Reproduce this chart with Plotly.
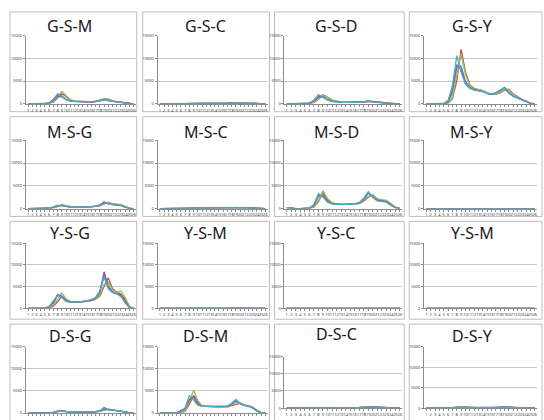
import plotly.graph_objects as go

W, H = 544, 420
HOURS = list(range(1, 27))
HOUR_LABELS = [str(h) for h in HOURS]
Y_TICKS = [0, 5000, 10000, 15000]
SERIES_COLORS = ["#4F81BD", "#C0504D", "#9BBB59", "#8064A2", "#4BACC6"]

# each panel: 5 series (blue, red, green, purple, cyan) x 26 categories
GSM = [
    [0,0,0,0,20,150,700,1700,1500,900,600,500,500,450,400,400,500,700,900,700,500,400,300,150,30,0],
    [0,0,0,0,0,80,400,1200,2200,1600,800,600,500,500,450,400,450,600,900,1000,600,500,350,200,50,0],
    [0,0,0,0,0,100,500,1500,2700,1800,900,650,550,500,450,450,500,650,950,1050,650,500,400,200,60,0],
    [0,0,0,0,20,200,800,1800,1700,1000,650,550,500,450,400,400,500,700,1000,750,500,400,300,150,30,0],
    [0,0,0,0,30,250,1000,2200,1700,900,600,500,450,450,400,400,550,750,1100,700,450,350,250,100,20,0],
]
GSC = [
    [0,0,0,0,0,10,30,60,80,60,50,50,50,60,70,90,130,180,240,220,160,110,60,30,10,0],
    [0,0,0,0,0,5,20,40,70,70,50,50,50,60,70,80,110,160,210,260,180,120,70,30,10,0],
    [0,0,0,0,0,5,25,50,80,70,55,50,50,60,70,85,120,170,230,250,190,130,80,35,10,0],
    [0,0,0,0,0,10,35,70,80,60,50,50,50,60,70,90,140,190,250,210,150,100,60,30,10,0],
    [0,0,0,0,0,15,40,80,70,55,50,50,50,60,75,100,150,210,280,200,140,100,55,25,5,0],
]
GSD = [
    [0,0,0,0,10,100,500,1500,1600,1000,600,400,350,300,300,300,350,450,550,450,300,200,120,60,20,0],
    [0,0,0,0,0,50,300,1000,2000,1500,800,500,350,300,300,300,300,400,500,550,400,250,150,80,20,0],
    [0,0,0,0,0,60,350,1100,1900,1400,800,500,350,300,300,300,320,420,520,500,380,250,150,80,20,0],
    [0,0,0,0,10,120,600,1600,1500,900,550,400,350,300,300,300,350,450,600,450,300,200,120,60,20,0],
    [0,0,0,0,20,150,800,2000,1400,800,500,380,330,300,300,300,350,480,650,420,280,180,100,50,10,0],
]
GSY = [
    [0,0,0,0,0,400,2500,8000,8300,5000,3600,3200,3000,2800,2300,2100,2300,2800,3500,2600,1700,1300,900,500,100,0],
    [0,0,0,0,0,100,1200,5000,12000,7000,4200,3400,3100,2900,2400,2100,2100,2400,3000,3200,2200,1500,1000,600,150,0],
    [0,0,0,0,0,150,1500,6000,11000,6500,4000,3300,3100,2900,2400,2100,2200,2500,3200,3100,2100,1500,1000,550,150,0],
    [0,0,0,0,0,500,3000,8600,7500,4500,3500,3100,2900,2700,2300,2100,2400,2900,3600,2500,1700,1300,900,500,100,0],
    [0,0,0,0,50,700,4000,10600,7000,4300,3400,3000,2900,2700,2300,2100,2400,3000,3400,2300,1600,1200,800,400,80,0],
]
MSG = [
    [0,0,0,0,0,50,250,600,700,500,350,300,300,300,350,400,500,700,1200,1100,900,850,700,300,50,0],
    [0,0,0,0,0,20,150,400,850,600,400,300,300,300,300,350,450,600,1000,1400,1000,900,800,400,80,0],
    [0,0,0,0,0,30,180,450,800,600,400,320,300,300,320,370,480,650,1100,1300,1000,900,850,450,80,0],
    [0,0,0,0,0,60,300,650,650,450,330,300,300,300,350,400,520,750,1300,1000,850,800,700,300,50,0],
    [0,0,0,0,10,80,350,750,600,400,300,280,280,300,350,420,550,800,1550,1000,850,800,650,250,40,0],
]
MSC = [
    [0,0,0,0,0,5,15,30,40,30,30,30,30,40,50,70,100,140,180,170,130,90,50,20,5,0],
    [0,0,0,0,0,0,10,20,35,35,30,30,30,40,50,60,90,120,160,200,150,100,60,25,5,0],
    [0,0,0,0,0,0,10,25,40,35,30,30,30,40,50,65,95,130,170,190,150,100,60,25,5,0],
    [0,0,0,0,0,5,20,35,40,30,30,30,30,40,50,70,105,150,190,160,120,80,50,20,5,0],
    [0,0,0,0,0,5,20,40,35,30,30,30,30,40,55,75,110,160,220,150,110,80,45,20,5,0],
]
MSD = [
    [200,50,0,0,0,100,600,2700,3000,1600,1100,950,900,900,950,1000,1200,2000,3400,2600,1800,1700,1500,800,200,0],
    [150,30,0,0,0,50,300,1500,3500,2000,1200,1000,900,900,950,1000,1100,1600,2500,3000,2100,1800,1700,1000,300,0],
    [150,30,0,0,0,50,350,1800,3900,2200,1300,1000,900,900,950,1000,1150,1700,2700,2900,2100,1900,1800,1100,300,0],
    [200,50,0,0,0,120,700,2900,2800,1500,1100,950,900,900,950,1000,1250,2100,3500,2500,1800,1700,1500,800,200,0],
    [200,50,0,0,0,150,900,3300,2500,1400,1050,900,880,900,950,1050,1300,2300,3700,2400,1700,1600,1400,700,150,0],
]
MSY = [
    [0,0,0,0,0,5,10,20,25,20,20,20,20,25,30,40,60,90,120,110,80,50,30,10,0,0],
    [0,0,0,0,0,0,5,15,25,25,20,20,20,25,30,40,55,80,100,130,90,60,30,10,0,0],
    [0,0,0,0,0,0,5,15,25,25,20,20,20,25,30,40,55,85,110,120,90,55,30,10,0,0],
    [0,0,0,0,0,5,10,20,25,20,20,20,20,25,30,40,60,95,125,100,75,50,30,10,0,0],
    [0,0,0,0,0,5,15,25,20,20,20,20,20,25,30,45,65,100,140,100,70,45,25,10,0,0],
]
YSG = [
    [0,0,0,0,0,300,1200,3000,2800,1800,1500,1500,1500,1600,1700,1900,2300,3500,8000,5000,3800,3500,3000,1500,200,0],
    [0,0,0,0,0,100,500,1500,2800,2000,1500,1400,1400,1500,1600,1800,2100,2800,5000,7000,4500,3700,3300,2000,400,0],
    [0,0,0,0,0,150,700,2000,3500,2200,1600,1500,1500,1600,1700,1900,2200,3000,5500,6000,4200,3700,4000,2500,500,0],
    [0,0,0,0,0,300,1300,3200,2700,1700,1500,1500,1500,1600,1700,1900,2400,3700,8400,5000,3700,3400,2900,1400,200,0],
    [0,0,0,0,50,500,1800,3000,2500,1600,1400,1400,1500,1600,1700,2000,2500,4000,7200,4500,3600,3300,2700,1200,150,0],
]
YSM = [
    [0,0,0,0,0,10,40,90,100,70,50,50,50,50,60,70,90,120,160,150,110,80,50,20,5,0],
    [0,0,0,0,0,5,20,60,110,80,55,50,50,50,60,70,85,110,140,170,120,85,55,25,5,0],
    [0,0,0,0,0,5,25,70,120,85,55,50,50,50,60,70,85,110,150,160,120,85,55,25,5,0],
    [0,0,0,0,0,10,45,100,95,65,50,50,50,50,60,70,95,125,165,140,105,75,45,20,5,0],
    [0,0,0,0,0,15,55,110,85,60,50,50,50,50,60,75,100,135,180,135,100,70,40,15,5,0],
]
YSC = [
    [0,0,0,0,0,5,10,25,30,25,20,20,20,25,30,40,55,75,100,90,70,50,30,10,0,0],
    [0,0,0,0,0,0,5,15,30,25,20,20,20,25,30,40,50,70,90,110,75,50,30,10,0,0],
    [0,0,0,0,0,0,5,20,35,25,20,20,20,25,30,40,50,70,95,105,75,50,30,10,0,0],
    [0,0,0,0,0,5,10,25,30,20,20,20,20,25,30,40,55,80,105,85,65,45,25,10,0,0],
    [0,0,0,0,0,5,15,30,25,20,20,20,20,25,30,45,60,85,115,85,60,40,25,10,0,0],
]
YSM2 = [
    [0,0,0,0,0,5,15,30,35,25,20,20,20,25,30,40,50,70,90,80,60,40,25,10,0,0],
    [0,0,0,0,0,0,10,20,40,30,20,20,20,25,30,40,50,65,80,95,65,45,25,10,0,0],
    [0,0,0,0,0,0,10,25,40,30,20,20,20,25,30,40,50,65,85,90,65,45,25,10,0,0],
    [0,0,0,0,0,5,15,35,35,25,20,20,20,25,30,40,55,75,95,75,55,40,25,10,0,0],
    [0,0,0,0,0,5,20,40,30,25,20,20,20,25,30,45,55,80,105,75,55,35,20,10,0,0],
]
DSG = [
    [0,0,0,0,0,30,150,400,500,350,250,200,200,200,200,250,300,450,900,800,600,550,450,200,30,0],
    [0,0,0,0,0,10,80,300,550,400,280,220,200,200,200,230,280,400,700,900,650,550,500,250,50,0],
    [0,0,0,0,0,15,100,320,560,400,280,220,200,200,200,240,290,420,750,880,650,560,500,250,50,0],
    [0,0,0,0,0,30,160,420,480,330,240,200,200,200,210,250,310,470,950,780,600,540,440,200,30,0],
    [0,0,0,0,0,50,200,500,450,300,230,200,200,200,220,260,330,500,1300,800,600,550,400,150,20,0],
]
DSM = [
    [0,0,0,0,0,200,800,3200,3500,2000,1500,1500,1500,1400,1400,1400,1500,2000,2800,2200,1800,1600,1200,500,50,0],
    [0,0,0,0,0,100,400,2000,4000,2500,1600,1500,1500,1400,1400,1400,1400,1700,2000,2200,1800,1600,1300,600,100,0],
    [0,0,0,0,0,100,500,2500,5200,2800,1700,1500,1500,1400,1400,1400,1450,1800,2400,2300,1800,1700,1300,600,100,0],
    [0,0,0,0,50,600,1000,3000,3800,2100,1500,1500,1500,1400,1400,1400,1500,2000,2900,2200,1800,1600,1200,500,50,0],
    [0,0,0,0,50,300,1200,4000,3000,1800,1500,1500,1500,1400,1400,1400,1600,2200,3100,2100,1700,1500,1100,400,40,0],
]
DSC = [
    [0,0,0,0,0,10,30,70,90,70,60,60,60,70,90,120,180,280,420,330,220,150,90,40,10,0],
    [0,0,0,0,0,5,20,50,90,80,60,60,60,70,85,110,160,240,350,420,260,170,100,45,10,0],
    [0,0,0,0,0,5,25,60,100,80,65,60,60,70,85,115,170,250,380,400,260,170,100,45,10,0],
    [0,0,0,0,0,10,35,80,90,70,60,60,60,70,90,125,190,300,450,320,210,140,85,35,10,0],
    [0,0,0,0,0,15,40,90,80,65,60,60,60,70,95,130,200,320,520,300,200,130,80,30,5,0],
]
DSY = [
    [0,0,0,0,0,20,80,200,250,180,120,100,100,100,110,130,170,220,280,240,170,120,70,30,5,0],
    [0,0,0,0,0,10,40,130,280,200,130,100,100,100,110,125,160,200,240,290,180,125,75,30,5,0],
    [0,0,0,0,0,10,50,150,290,200,130,100,100,100,110,125,160,205,260,280,180,125,75,30,5,0],
    [0,0,0,0,0,25,90,220,240,170,115,100,100,100,110,135,175,230,290,230,165,115,65,25,5,0],
    [0,0,0,0,0,30,110,250,220,160,110,100,100,100,115,140,185,240,320,220,160,110,60,25,5,0],
]

TITLES = ["G-S-M", "G-S-C", "G-S-D", "G-S-Y",
          "M-S-G", "M-S-C", "M-S-D", "M-S-Y",
          "Y-S-G", "Y-S-M", "Y-S-C", "Y-S-M",
          "D-S-G", "D-S-M", "D-S-C", "D-S-Y"]
PANEL_DATA = [GSM, GSC, GSD, GSY, MSG, MSC, MSD, MSY,
              YSG, YSM, YSC, YSM2, DSG, DSM, DSC, DSY]

# layout geometry (pixels)
COL_PLOT = [(26, 136), (158, 268), (285, 403), (425, 538)]
ROW_PLOT = [(33, 102), (139, 208), (243, 309), (348, 415)]
COL_FRAME = [(10, 137), (143, 270), (275, 405), (410, 543)]
ROW_FRAME = [(9, 110), (115, 216), (221, 320), (325, 430)]
COL_TITLE_X = [70, 206, 337, 473]
ROW_TITLE_Y = [23, 131, 233, 337]

fig = go.Figure()
shapes = []
annotations = []
layout_axes = {}

for i, (title, data) in enumerate(zip(TITLES, PANEL_DATA)):
    r, c = divmod(i, 4)
    k = i + 1
    xa = "x" if k == 1 else f"x{k}"
    ya = "y" if k == 1 else f"y{k}"
    for s, vals in enumerate(data):
        fig.add_trace(go.Scatter(
            x=HOURS, y=vals, mode="lines", xaxis=xa, yaxis=ya,
            line=dict(color=SERIES_COLORS[s], width=1.3),
            showlegend=False, hoverinfo="skip"))
    x0, x1 = COL_PLOT[c]
    ytop, ybot = ROW_PLOT[r]
    if title == "D-S-C":
        ytop, ybot = 358, 410
    if title == "D-S-Y":
        ybot = 410
    show_x_labels = not (r == 3 and c in (0, 1))
    layout_axes["xaxis" if k == 1 else f"xaxis{k}"] = dict(
        domain=[x0 / W, x1 / W], anchor=ya, range=[0.5, 26.5],
        tickmode="array", tickvals=HOURS, ticktext=HOUR_LABELS, tickangle=0,
        showticklabels=show_x_labels,
        tickfont=dict(size=4, color="#404040"), showgrid=False,
        showline=True, linecolor="#8c8c8c", linewidth=1,
        ticks="outside", ticklen=2, tickcolor="#8c8c8c", zeroline=False,
        fixedrange=True)
    layout_axes["yaxis" if k == 1 else f"yaxis{k}"] = dict(
        domain=[1 - ybot / H, 1 - ytop / H], anchor=xa, range=[0, 15000],
        tickmode="array", tickvals=Y_TICKS, ticktext=[str(t) for t in Y_TICKS],
        tickfont=dict(size=4, color="#404040"), showgrid=True,
        gridcolor="#c8c8c8", gridwidth=1, showline=True, linecolor="#8c8c8c",
        ticks="outside", ticklen=2, tickcolor="#8c8c8c", zeroline=False,
        fixedrange=True)
    fx0, fx1 = COL_FRAME[c]
    fy0, fy1 = ROW_FRAME[r]
    shapes.append(dict(type="rect", xref="paper", yref="paper",
                       x0=fx0 / W, x1=fx1 / W, y0=1 - fy1 / H, y1=1 - fy0 / H,
                       line=dict(color="#bdbdbd", width=1), layer="below"))
    ty = ROW_TITLE_Y[r] - (2 if title == "D-S-C" else 0)
    annotations.append(dict(text=title, xref="paper", yref="paper",
                            x=COL_TITLE_X[c] / W, y=1 - ty / H,
                            xanchor="center", yanchor="middle", showarrow=False,
                            font=dict(size=16, color="#1a1a1a", family="Noto Sans")))

fig.update_layout(
    width=W, height=H, margin=dict(l=0, r=0, t=0, b=0),
    paper_bgcolor="white", plot_bgcolor="white",
    font=dict(family="Noto Sans", color="#404040"),
    shapes=shapes, annotations=annotations, **layout_axes)

fig.write_html("out.html", config={"displayModeBar": False},
               post_script="document.body.style.margin='0';")
